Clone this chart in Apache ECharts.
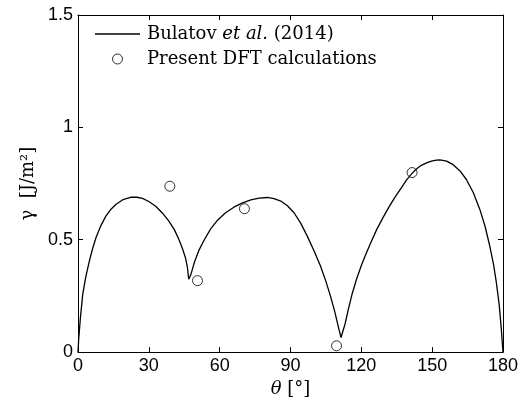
<!DOCTYPE html>
<html>
<head>
<meta charset="utf-8">
<script src="https://cdn.jsdelivr.net/npm/echarts@6/dist/echarts.min.js"></script>
<style>html,body{margin:0;padding:0;background:#fff;}#c{width:521px;height:403px;}</style>
</head>
<body>
<div id="c"></div>
<script>
// Bulatov et al. (2014) curve
var curveTheta = [0, 0.3, 1.0, 2.0, 3.3, 4.8, 6.2, 7.6, 9.7, 11.8, 14.0, 16.0, 19.0, 22.3, 25.0, 27.3, 30.0, 32.9, 35.8, 38.5, 40.8, 42.7, 44.2, 45.5, 46.3, 46.9,
  47.8, 49.3, 51.3, 53.5, 56.2, 59.2, 62.5, 66.2, 69.7, 73.2, 76.7, 80.2, 83.0, 85.9, 88.7, 91.5, 94.3, 97.1, 100.0, 102.7, 104.9, 106.9, 108.8, 110.5, 111.4,
  111.9, 113.1, 114.5, 116.0, 118.0, 120.0, 122.0, 124.0, 126.5, 129.0, 131.5, 134.0, 137.0, 139.1, 141.2, 143.3, 145.4, 147.6, 149.7, 151.8, 153.3, 156.1, 158.9, 161.8, 164.5, 167.4, 170.2, 172.4, 174.4, 176.0, 177.2, 178.4, 179.3, 180];
var curveGamma = [0, 0.058, 0.150, 0.257, 0.335, 0.405, 0.461, 0.509, 0.563, 0.605, 0.636, 0.657, 0.678, 0.689, 0.689, 0.684, 0.670, 0.649, 0.618, 0.583, 0.545, 0.502, 0.462, 0.420, 0.380, 0.324,
  0.345, 0.400, 0.455, 0.500, 0.548, 0.588, 0.620, 0.646, 0.664, 0.677, 0.685, 0.688, 0.683, 0.672, 0.651, 0.620, 0.574, 0.516, 0.450, 0.383, 0.318, 0.250, 0.178, 0.102, 0.065,
  0.061, 0.125, 0.190, 0.255, 0.325, 0.385, 0.438, 0.487, 0.545, 0.595, 0.642, 0.685, 0.732, 0.765, 0.792, 0.815, 0.831, 0.842, 0.850, 0.854, 0.855, 0.850, 0.834, 0.806, 0.768, 0.710, 0.635, 0.560, 0.472, 0.390, 0.309, 0.210, 0.102, 0];
// Present DFT calculations
var dftTheta = [38.9, 50.6, 70.5, 109.5, 141.5];
var dftGamma = [0.738, 0.318, 0.638, 0.028, 0.799];

var xTicks = {min: 0, max: 180, interval: 30};
var yTicks = {min: 0, max: 1.5, interval: 0.5};

var serif = '"DejaVu Serif", "Liberation Serif", serif';
var sans = '"Liberation Sans", Arial, sans-serif';

function pairs(a, b) { return a.map(function (v, i) { return [v, b[i]]; }); }

var chart = echarts.init(document.getElementById('c'), null, {renderer: 'canvas'});
var axisLine = {show: true, onZero: false, lineStyle: {color: '#000', width: 1}};
var tick = {show: true, inside: true, length: 5, lineStyle: {color: '#000', width: 1}};
chart.setOption({
  animation: false,
  backgroundColor: '#fff',
  grid: {left: 78, right: 16, top: 15, bottom: 50, containLabel: false},
  legend: {
    orient: 'vertical', left: 95, top: 25, padding: 0, itemWidth: 45, itemHeight: 10, itemGap: 7,
    textStyle: {fontFamily: serif, fontSize: 18, color: '#000', padding: [0, 0, 0, 2],
      rich: {i: {fontFamily: serif, fontStyle: 'italic', fontSize: 18, color: '#000'}}},
    formatter: function (name) {
      if (name === 'Bulatov') return 'Bulatov {i|et al.} (2014)';
      return name;
    },
    data: [
      {name: 'Bulatov', icon: 'path://M0,0L45,0L45,1.3L0,1.3Z'},
      {name: 'Present DFT calculations', itemStyle: {color: 'rgba(0,0,0,0)', borderColor: '#000', borderWidth: 1}}
    ]
  },
  xAxis: [{
    type: 'value', position: 'bottom', min: xTicks.min, max: xTicks.max, interval: xTicks.interval,
    axisLine: axisLine, axisTick: tick, splitLine: {show: false},
    axisLabel: {color: '#000', fontFamily: sans, fontSize: 18, margin: 5},
    name: '{t|θ} [°]', nameLocation: 'middle', nameGap: 22,
    nameTextStyle: {fontFamily: serif, fontSize: 18, color: '#000',
      rich: {t: {fontFamily: serif, fontStyle: 'italic', fontSize: 18, color: '#000'}}}
  }, {
    type: 'value', position: 'top', min: xTicks.min, max: xTicks.max, interval: xTicks.interval,
    axisLine: axisLine, axisTick: tick, splitLine: {show: false}, axisLabel: {show: false}
  }],
  yAxis: [{
    type: 'value', position: 'left', min: yTicks.min, max: yTicks.max, interval: yTicks.interval,
    axisLine: axisLine, axisTick: tick, splitLine: {show: false},
    axisLabel: {color: '#000', fontFamily: sans, fontSize: 18, margin: 5},
    name: 'γ  [J/m²]', nameLocation: 'middle', nameGap: 38, nameRotate: 90,
    nameTextStyle: {fontFamily: serif, fontSize: 18, color: '#000'}
  }, {
    type: 'value', position: 'right', min: yTicks.min, max: yTicks.max, interval: yTicks.interval,
    axisLine: axisLine, axisTick: tick, splitLine: {show: false}, axisLabel: {show: false}
  }],
  series: [{
    name: 'Bulatov', type: 'line', data: pairs(curveTheta, curveGamma),
    showSymbol: false, smooth: false, lineStyle: {color: '#000', width: 1.3}, itemStyle: {color: '#000'}
  }, {
    name: 'Present DFT calculations', type: 'scatter', data: pairs(dftTheta, dftGamma),
    symbol: 'circle', symbolSize: 10,
    itemStyle: {color: 'rgba(0,0,0,0)', borderColor: '#000', borderWidth: 1}
  }]
});
</script>
</body>
</html>
